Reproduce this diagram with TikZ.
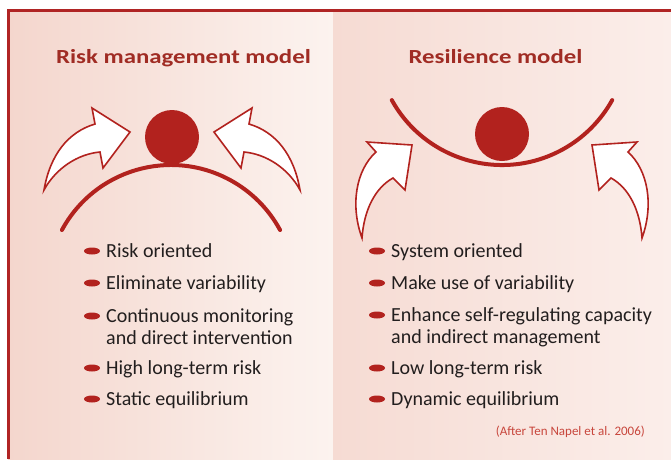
\documentclass[tikz,border=0pt]{standalone}
\usepackage{fontspec}
\usepackage{graphicx}
\setmainfont{Carlito}
\usetikzlibrary{shapes.geometric}
\definecolor{framec}{RGB}{176,36,36}
\definecolor{shapec}{RGB}{178,34,30}
\definecolor{titlec}{RGB}{160,44,36}
\definecolor{txtc}{RGB}{34,30,30}
\definecolor{pinkL}{RGB}{244,214,205}
\definecolor{pinkLw}{RGB}{252,243,239}
\definecolor{pinkR}{RGB}{246,219,211}
\definecolor{pinkRw}{RGB}{251,238,234}
\definecolor{citec}{RGB}{200,70,60}
\begin{document}
\begin{tikzpicture}[x=1pt,y=-1pt,
  titlestyle/.style={font=\fontsize{20}{24}\selectfont\bfseries, text=titlec, inner sep=0pt, anchor=base},
  itemtext/.style={font=\fontsize{20}{24}\selectfont, text=txtc, inner sep=0pt, anchor=base west},
  bulletdot/.style={ellipse, fill=shapec, minimum width=16pt, minimum height=7pt, inner sep=0pt},
  ball/.style={circle, fill=shapec, minimum size=54pt, inner sep=0pt},
  bigarrow/.style={draw=shapec, line width=1.6pt, fill=white, line join=miter},
  curvestroke/.style={draw=shapec, line width=4pt, line cap=round},
  citestyle/.style={font=\fontsize{13}{15}\selectfont, text=citec, inner sep=0pt, anchor=base east}
]
\useasboundingbox (0,0) rectangle (671,459);
\fill[white] (0,0) rectangle (671,459);
% panels
\shade[left color=pinkL, right color=pinkLw] (8,10) rectangle (333,459);
\shade[left color=pinkR, right color=pinkRw] (333,10) rectangle (671,459);
% frame
\draw[framec, line width=3pt] (8,459) -- (8,10) -- (671,10);

% ---------- left panel ----------
\node[titlestyle] (titleL) at (183.5,63) {\scalebox{1.24}[1]{Risk management model}};
\node[ball] (ballL) at (172,137) {};
\draw[curvestroke] (171,289) ++(208.4:124) arc[start angle=208.4, end angle=331.6, radius=124];
\draw[bigarrow] (44,190) .. controls (50,155) and (68,132) .. (95,124) -- (92,108) -- (130,132) -- (103,168) -- (100,152) .. controls (78,154) and (56,168) .. (44,190) -- cycle;
\draw[bigarrow] (300,190) .. controls (294,155) and (276,132) .. (249,124) -- (252,108) -- (214,132) -- (241,168) -- (244,152) .. controls (266,154) and (288,168) .. (300,190) -- cycle;

\node[bulletdot] (bL1) at (92,251) {};
\node[itemtext] (tL1) at (106,257) {Risk oriented};
\node[bulletdot] (bL2) at (92,283) {};
\node[itemtext] (tL2) at (106,289) {Eliminate variability};
\node[bulletdot] (bL3) at (92,316) {};
\node[itemtext] (tL3) at (106,322) {Continuous monitoring};
\node[itemtext] (tL3b) at (106,344) {and direct intervention};
\node[bulletdot] (bL4) at (92,368) {};
\node[itemtext] (tL4) at (106,374) {High long-term risk};
\node[bulletdot] (bL5) at (92,399) {};
\node[itemtext] (tL5) at (106,405) {Static equilibrium};

% ---------- right panel ----------
\node[titlestyle] (titleR) at (495.5,63) {\scalebox{1.24}[1]{Resilience model}};
\node[ball] (ballR) at (502,134) {};
\draw[curvestroke] (502,39) ++(151:126) arc[start angle=151, end angle=29, radius=126];
\draw[bigarrow] (362,238) .. controls (350,205) and (356,170) .. (376,152) -- (367,142) -- (412,145) -- (405,190) -- (393,178) .. controls (375,188) and (364,210) .. (362,238) -- cycle;
\draw[bigarrow] (642,238) .. controls (654,205) and (648,170) .. (628,152) -- (637,142) -- (592,145) -- (599,190) -- (611,178) .. controls (629,188) and (640,210) .. (642,238) -- cycle;

\node[bulletdot] (bR1) at (377,251) {};
\node[itemtext] (tR1) at (391,257) {System oriented};
\node[bulletdot] (bR2) at (377,283) {};
\node[itemtext] (tR2) at (391,289) {Make use of variability};
\node[bulletdot] (bR3) at (377,315) {};
\node[itemtext] (tR3) at (391,321) {Enhance self-regulating capacity};
\node[itemtext] (tR3b) at (391,343) {and indirect management};
\node[bulletdot] (bR4) at (377,368) {};
\node[itemtext] (tR4) at (391,374) {Low long-term risk};
\node[bulletdot] (bR5) at (377,399) {};
\node[itemtext] (tR5) at (391,405) {Dynamic equilibrium};

\node[citestyle] (cite) at (645,435) {(After Ten Napel et al. 2006)};
\end{tikzpicture}
\end{document}
